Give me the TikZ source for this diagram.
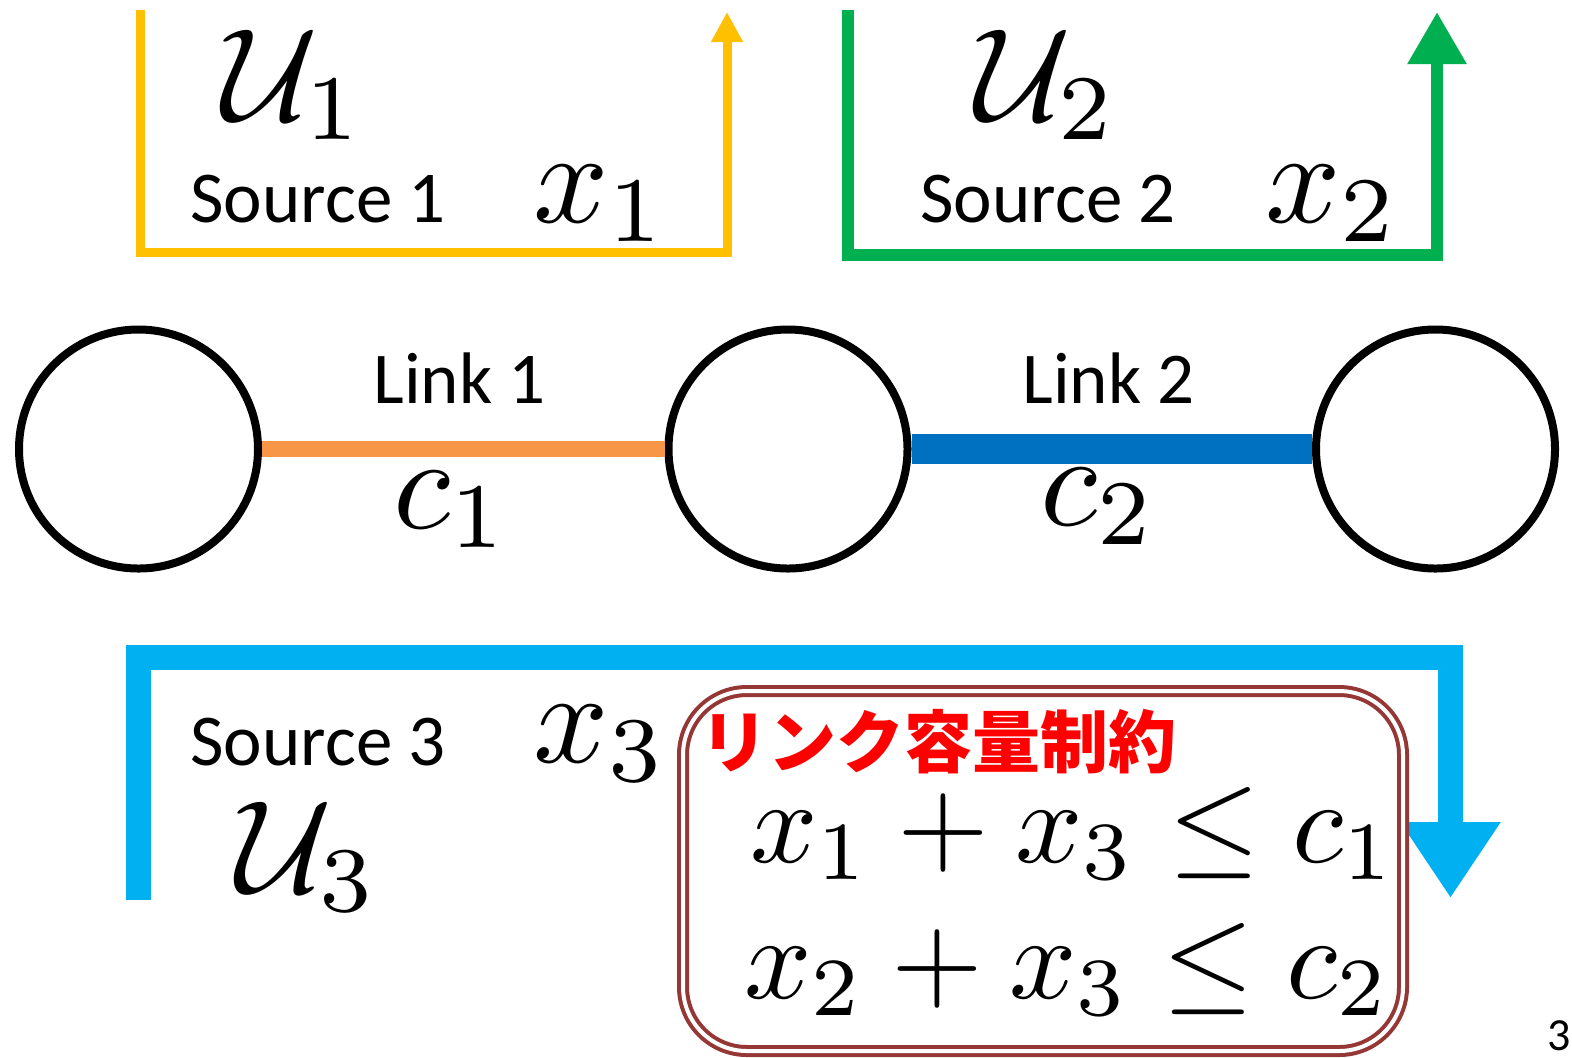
\documentclass[tikz,border=0pt]{standalone}
\usepackage[no-math]{fontspec}
\usepackage{graphicx}
\setmainfont{Carlito}
\newfontfamily\jpfont{Noto Sans CJK JP}
\usetikzlibrary{arrows.meta}

\definecolor{srcone}{HTML}{FFC000}
\definecolor{srctwo}{HTML}{00B050}
\definecolor{srcthree}{HTML}{00B0F0}
\definecolor{linkone}{HTML}{F79646}
\definecolor{linktwo}{HTML}{0070C0}
\definecolor{boxbrown}{HTML}{953735}

\newcommand\lblsize{\fontsize{36.5}{40}\selectfont}
% math is set at 10pt and enlarged
\newcommand\bigmath[1]{\scalebox{6.6}{$#1$}}
\newcommand\eqmath[1]{\scalebox{5.9}{$#1$}}

\tikzset{
  router/.style={circle, draw=black, line width=4pt, minimum size=119.5pt, inner sep=0pt},
  txt/.style={inner sep=0pt, anchor=base west, font=\lblsize},
  sym/.style={inner sep=0pt, anchor=base west},
  flowone/.style={draw=srcone, line width=4.5pt, -{Triangle[length=15pt, width=15pt]}},
  flowtwo/.style={draw=srctwo, line width=6pt, -{Triangle[length=26pt, width=28pt]}},
  flowthree/.style={draw=srcthree, line width=12.5pt, -{Triangle[length=38pt, width=47.5pt]}},
  capbox/.style={draw=boxbrown, line width=2pt, double=white, double distance=2pt,
    rounded corners=32pt, minimum width=360pt, minimum height=180pt, inner sep=0pt},
}

\begin{document}
\begin{tikzpicture}[x=0.5pt, y=-0.5pt]
\useasboundingbox[fill=white] (0,0) rectangle (1572,1057);

% routers
\node[router] (n1) at (138.5,449) {};
\node[router] (n2) at (788,449) {};
\node[router] (n3) at (1435.5,449) {};

% links
\draw[linkone, line width=8pt] (n1.east) -- (n2.west);
\draw[linktwo, line width=15pt] (n2.east) -- (n3.west);
\node[txt] (l1) at (373,403) {Link 1};
\node[txt] (l2) at (1022,403) {Link 2};
\node[sym] (c1) at (393,528) {\bigmath{c_1}};
\node[sym] (c2) at (1040,525) {\bigmath{c_2}};

% source 1
\coordinate (s1a) at (140,10);
\coordinate (s1b) at (140,252);
\coordinate (s1c) at (727,252);
\coordinate (s1d) at (727,12);
\draw[flowone] (s1a) -- (s1b) -- (s1c) -- (s1d);
\node[sym] (u1) at (222,120) {\bigmath{\mathcal{U}_1}};
\node[txt] (src1) at (190,222) {Source 1};
\node[sym] (x1) at (533,222) {\bigmath{x_1}};

% source 2
\coordinate (s2a) at (848,10);
\coordinate (s2b) at (848,255);
\coordinate (s2c) at (1437,255);
\coordinate (s2d) at (1437,12);
\draw[flowtwo] (s2a) -- (s2b) -- (s2c) -- (s2d);
\node[sym] (u2) at (975,120) {\bigmath{\mathcal{U}_2}};
\node[txt] (src2) at (920,222) {Source 2};
\node[sym] (x2) at (1265,222) {\bigmath{x_2}};

% source 3
\coordinate (s3a) at (138.5,900);
\coordinate (s3b) at (138.5,657.5);
\coordinate (s3c) at (1450.5,657.5);
\coordinate (s3d) at (1450.5,898);
\draw[flowthree] (s3a) -- (s3b) -- (s3c) -- (s3d);
\node[txt] (src3) at (190,765) {Source 3};
\node[sym] (x3) at (533,762) {\bigmath{x_3}};
\node[sym] (u3) at (236,892) {\bigmath{\mathcal{U}_3}};

% capacity constraints
\node[capbox] (cbox) at (1043,871) {};
\node[inner sep=0pt, anchor=base west, text=red, font=\jpfont\bfseries\fontsize{34}{38}\selectfont] (ctitle) at (700,767) {リンク容量制約};
\node[sym] (eq1) at (750,862) {\eqmath{x_1 + x_3 \leq c_1}};
\node[sym] (eq2) at (744,998) {\eqmath{x_2 + x_3 \leq c_2}};

% page number
\node[inner sep=0pt, anchor=base west, font=\fontsize{23}{26}\selectfont] (pg) at (1547,1050) {3};
\end{tikzpicture}
\end{document}
